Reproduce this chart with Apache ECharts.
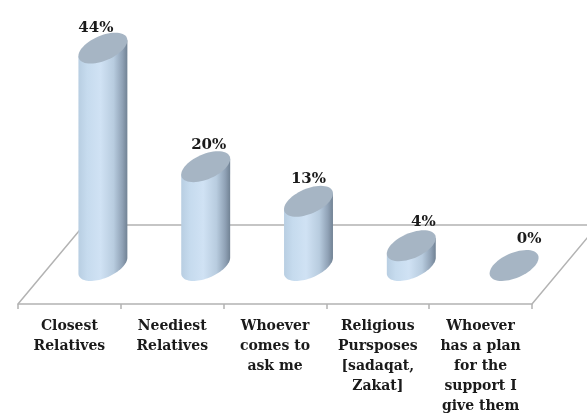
<!DOCTYPE html>
<html>
<head>
<meta charset="utf-8">
<style>html,body{margin:0;padding:0;background:#fff}#c{width:587px;height:416px}</style>
<script src="https://cdn.jsdelivr.net/npm/echarts@6/dist/echarts.min.js"></script>
</head>
<body>
<div id="c"></div>
<script>
const categories = ['Closest\nRelatives','Neediest\nRelatives','Whoever\ncomes to\nask me','Religious\nPursposes\n[sadaqat,\nZakat]','Whoever\nhas a plan\nfor the\nsupport I\ngive them'];
const values = [44, 20, 13, 4, 0];
const labelDx = [-7, 3, 0, 12, 15];
const labelDy = [-5, -6, -7, -8, -11];
const FONT = '"DejaVu Serif", serif';
const chart = echarts.init(document.getElementById('c'), null, {renderer:'canvas'});
const bodyFill = {type:'linear',x:0,y:0,x2:1,y2:0,colorStops:[
  {offset:0,color:'#b8cee2'},{offset:.18,color:'#c6dbee'},{offset:.45,color:'#d0e2f4'},
  {offset:.72,color:'#b8ccdf'},{offset:.9,color:'#8fa1b5'},{offset:1,color:'#718294'}]};
function ellipsePts(cx,cy,a,dy,e,t0,t1,n){
  const p=[];
  for(let i=0;i<=n;i++){const t=t0+(t1-t0)*i/n;p.push([cx+a*Math.cos(t),cy-dy*Math.cos(t)+e*Math.sin(t)]);}
  return p;
}
function renderCyl(params,api){
  const i=api.value(0), v=api.value(1);
  const top=api.coord([i,v]), base=api.coord([i,0]);
  const a=api.size([1,0])[0]*0.238, dy=a*0.32, e=a*0.545;
  const cx=top[0];
  const children=[];
  if(v>0){
    const pts=[[cx-a,top[1]+dy]].concat(ellipsePts(cx,base[1],a,dy,e,Math.PI,0,40),[[cx+a,top[1]-dy]]);
    children.push({type:'polygon',shape:{points:pts},style:{fill:bodyFill}});
  }
  children.push({type:'polygon',shape:{points:ellipsePts(cx,top[1],a,dy,e,0,Math.PI*2,60)},style:{fill:'#a6b5c4'}});
  children.push({type:'text',style:{text:v+'%',x:cx+labelDx[i],y:top[1]-15.5+labelDy[i],align:'center',verticalAlign:'middle',
    font:'bold 15px '+FONT,fill:'#1a1a1a'}});
  return {type:'group',children};
}
chart.setOption({
  animation:false,
  backgroundColor:'#fff',
  graphic:[{type:'polyline',z:0,shape:{points:[[18,304],[84,225],[598,225],[532,304]]},style:{stroke:'#b3b3b3',lineWidth:1.5,fill:'#fff'}}],
  grid:[
    {left:18,width:514,top:50,bottom:112},
    {left:51.5,width:514,top:18.5,bottom:150.5}
  ],
  xAxis:[
    {gridIndex:0,type:'category',data:categories,
     axisLine:{lineStyle:{color:'#b3b3b3',width:1.5}},
     axisTick:{show:true,alignWithLabel:false,length:5,lineStyle:{color:'#b3b3b3',width:1.5}},
     axisLabel:{interval:0,margin:12,fontFamily:FONT,fontWeight:'bold',fontSize:14,lineHeight:20,color:'#1a1a1a',verticalAlign:'top'}},
    {gridIndex:1,type:'category',data:categories,show:false}
  ],
  yAxis:[
    {gridIndex:0,type:'value',show:false,min:0,max:50},
    {gridIndex:1,type:'value',show:false,min:0,max:50}
  ],
  series:[{type:'custom',xAxisIndex:1,yAxisIndex:1,clip:false,z:5,
    encode:{x:0,y:1},
    data:values.map((v,i)=>[i,v]),
    renderItem:renderCyl}]
});
</script>
</body>
</html>
